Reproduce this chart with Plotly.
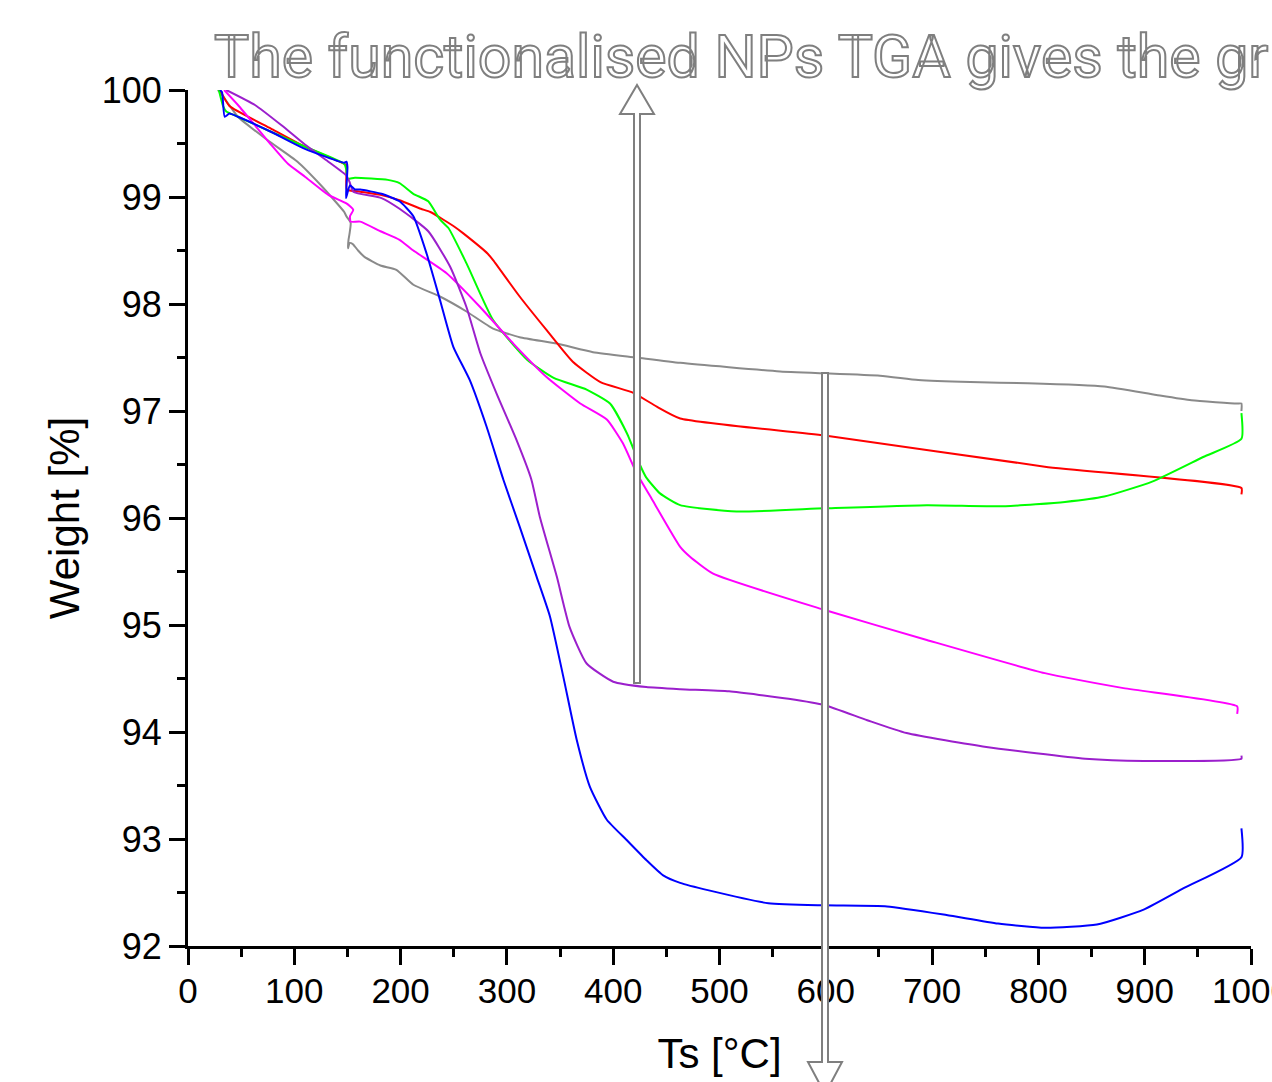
import plotly.graph_objects as go

# ---- data ----
grey_T = [28, 30, 47, 75, 103, 125, 147, 149, 153, 152, 151, 150.5, 152, 155, 160, 166, 181, 196, 212, 237, 262, 287, 312, 347, 381, 422, 463, 557, 651, 687, 736, 790, 862, 911, 944, 987, 991, 991]
grey_W = [100, 99.98, 99.75, 99.53, 99.33, 99.11, 98.86, 98.82, 98.76, 98.66, 98.60, 98.52, 98.57, 98.56, 98.50, 98.44, 98.36, 98.32, 98.18, 98.07, 97.93, 97.77, 97.69, 97.63, 97.55, 97.50, 97.45, 97.37, 97.33, 97.29, 97.27, 97.26, 97.23, 97.15, 97.10, 97.07, 97.07, 97.00]

red_T = [29, 31, 39, 78, 110, 147, 149, 149.5, 162, 181, 199, 219, 228, 251, 259, 282, 287, 312, 337, 362, 388, 419, 441, 463, 599, 806, 991, 991]
red_W = [100, 99.98, 99.85, 99.64, 99.47, 99.31, 99.30, 99.07, 99.05, 99.02, 98.97, 98.89, 98.86, 98.72, 98.66, 98.47, 98.41, 98.07, 97.76, 97.46, 97.27, 97.17, 97.04, 96.93, 96.77, 96.48, 96.28, 96.22]

green_T = [29, 33, 36, 47, 78, 110, 147, 149, 150, 157, 188, 199, 212, 226, 237, 245, 262, 287, 319, 344, 375, 397, 413, 425, 431, 444, 463, 516, 599, 695, 769, 825, 862, 907, 955, 991, 991]
green_W = [100, 99.85, 99.80, 99.75, 99.61, 99.47, 99.31, 99.25, 99.17, 99.18, 99.16, 99.13, 99.03, 98.96, 98.79, 98.71, 98.38, 97.85, 97.48, 97.31, 97.20, 97.07, 96.79, 96.50, 96.38, 96.23, 96.12, 96.06, 96.09, 96.12, 96.11, 96.15, 96.20, 96.34, 96.57, 96.74, 96.98]

magenta_T = [34, 47, 63, 78, 94, 110, 132, 149, 155.5, 152.4, 153, 162, 181, 199, 212, 243, 275, 306, 337, 369, 394, 409, 422, 435, 463, 472, 494, 599, 695, 806, 880, 987, 987]
magenta_W = [100, 99.86, 99.67, 99.49, 99.31, 99.19, 99.02, 98.94, 98.88, 98.82, 98.77, 98.77, 98.68, 98.60, 98.50, 98.29, 97.97, 97.63, 97.32, 97.07, 96.92, 96.70, 96.42, 96.20, 95.73, 95.64, 95.48, 95.14, 94.86, 94.55, 94.41, 94.24, 94.17]

purple_T = [36, 63, 88, 110, 132, 149, 152, 155.5, 182, 199, 226, 246.5, 262, 275, 290, 309, 323, 331, 347, 359, 375, 400, 431, 463, 509, 565, 599, 639, 676, 751, 844, 899, 991, 991]
purple_W = [100, 99.86, 99.67, 99.49, 99.33, 99.20, 99.14, 99.05, 98.99, 98.89, 98.68, 98.35, 97.97, 97.54, 97.17, 96.73, 96.36, 96.01, 95.45, 94.98, 94.64, 94.47, 94.42, 94.40, 94.38, 94.31, 94.25, 94.11, 93.99, 93.86, 93.75, 93.73, 93.75, 93.78]

blue_T = [30, 32, 34.5, 39, 47, 78, 110, 147, 149, 150, 148.6, 152.4, 157, 162, 182, 199, 212, 224.5, 237, 249.6, 265, 281, 296.6, 312, 328, 340.5, 353, 365.6, 378, 394, 412.7, 431.5, 447, 463, 490, 546, 599, 657.6, 713.5, 762, 806, 855, 899, 936.6, 991, 991]
blue_W = [100, 99.98, 99.75, 99.78, 99.75, 99.61, 99.45, 99.32, 99.33, 99.28, 98.99, 99.11, 99.07, 99.07, 99.03, 98.96, 98.82, 98.47, 98.04, 97.60, 97.29, 96.85, 96.36, 95.92, 95.45, 95.08, 94.52, 93.93, 93.49, 93.18, 92.99, 92.80, 92.66, 92.59, 92.52, 92.40, 92.38, 92.37, 92.29, 92.21, 92.17, 92.20, 92.34, 92.54, 92.83, 93.10]

series = [
    ("grey", grey_T, grey_W, "#8a8a8a"),
    ("red", red_T, red_W, "#ff0000"),
    ("green", green_T, green_W, "#00ff00"),
    ("magenta", magenta_T, magenta_W, "#ff00ff"),
    ("purple", purple_T, purple_W, "#9b1fcc"),
    ("blue", blue_T, blue_W, "#0000ff"),
]

x_ticks = list(range(0, 1001, 100))
y_ticks = list(range(92, 101, 1))
title_text = "The functionalised NPs TGA gives the gr"

# ---- layout geometry ----
W, H = 1272, 1082
L, R, T, B = 188, 21, 90, 136
pw, ph = W - L - R, H - T - B


def px(x):
    return (x - L) / pw


def py(y):
    return (H - B - y) / ph


fig = go.Figure()
for name, xs, ys, col in series:
    fig.add_trace(go.Scatter(x=xs, y=ys, mode="lines", name=name,
                             line=dict(color=col, width=2, shape="spline", smoothing=0.5),
                             showlegend=False))

font_ax = "Liberation Sans, Arial, Helvetica, sans-serif"


def arrow_path(cx, y_tail, y_head_base, y_tip, half_shaft=3, half_head=17):
    pts = [(cx - half_shaft, y_tail), (cx - half_shaft, y_head_base), (cx - half_head, y_head_base),
           (cx, y_tip), (cx + half_head, y_head_base), (cx + half_shaft, y_head_base),
           (cx + half_shaft, y_tail)]
    return "M " + " L ".join(f"{px(a):.5f},{py(b):.5f}" for a, b in pts) + " Z"


shapes = [
    dict(type="path", xref="paper", yref="paper", path=arrow_path(637, 683, 114, 85),
         fillcolor="white", line=dict(color="#7f7f7f", width=2), layer="above"),
    dict(type="path", xref="paper", yref="paper", path=arrow_path(825, 373, 1062, 1094),
         fillcolor="white", line=dict(color="#7f7f7f", width=2), layer="above"),
]

fig.update_layout(
    width=W, height=H,
    margin=dict(l=L, r=R, t=T, b=B, autoexpand=False),
    paper_bgcolor="white", plot_bgcolor="white",
    shapes=shapes,
    annotations=[dict(
        xref="paper", yref="paper", x=px(212), y=py(56), xanchor="left", yanchor="middle",
        showarrow=False,
        text=f'<span style="fill:white;stroke:#7f7f7f;stroke-width:2px">{title_text}</span>',
        font=dict(family="Roboto, Inter, sans-serif", size=59, color="white"),
    )],
    xaxis=dict(
        range=[0, 1000], tickmode="array", tickvals=x_ticks, ticktext=[str(v) for v in x_ticks],
        ticks="outside", ticklen=16, tickwidth=2.5, tickcolor="black", ticklabeloverflow="allow",
        ticklabelstandoff=-4,
        showline=True, linewidth=3, linecolor="black", showgrid=False, zeroline=False,
        minor=dict(dtick=50, tick0=0, ticks="outside", ticklen=8, tickwidth=2.5, tickcolor="black", showgrid=False),
        tickfont=dict(family=font_ax, size=35, color="black"),
        title=dict(text="Ts [°C]", font=dict(family=font_ax, size=42, color="black"), standoff=30),
        automargin=False,
    ),
    yaxis=dict(
        range=[92, 100], tickmode="array", tickvals=y_ticks, ticktext=[str(v) for v in y_ticks],
        ticks="outside", ticklen=16, tickwidth=2.5, tickcolor="black",
        showline=True, linewidth=3, linecolor="black", showgrid=False, zeroline=False,
        minor=dict(dtick=0.5, tick0=92, ticks="outside", ticklen=8, tickwidth=2.5, tickcolor="black", showgrid=False),
        tickfont=dict(family=font_ax, size=36, color="black"),
        title=dict(text="Weight [%]", font=dict(family=font_ax, size=42, color="black"), standoff=10),
        automargin=False,
    ),
)

fig.write_html("out.html")
